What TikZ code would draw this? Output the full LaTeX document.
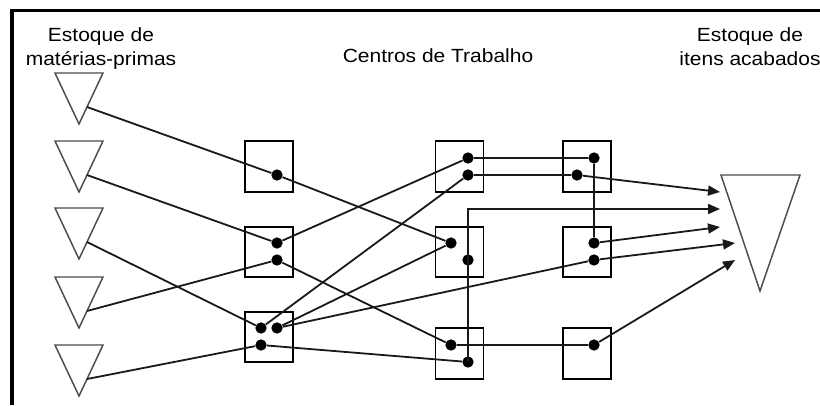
\documentclass[tikz,border=0pt]{standalone}
\usepackage{fontspec}
\setmainfont{Liberation Sans}[FakeStretch=1.1]
\usetikzlibrary{arrows.meta}
\begin{document}
\begin{tikzpicture}[x=0.75pt,y=-0.75pt,
  box/.style={draw=black, line width=1.4pt, minimum width=36pt, minimum height=38pt, inner sep=0pt},
  dot/.style={circle, fill=black, inner sep=0pt, minimum size=8.5pt},
  flow/.style={draw=black!90, line width=1.35pt},
  arr/.style={flow, -{Triangle[length=9pt,width=7.5pt]}},
  stock/.style={draw=black!70, line width=1.1pt, line join=miter},
  txt/.style={font=\fontsize{14.3pt}{18pt}\selectfont, inner sep=0pt, anchor=base}]

\useasboundingbox (0,0) rectangle (820,405);

% frame
\draw[line width=2.6pt] (12,405) -- (12,10.3) -- (820,10.3);

% titles
\node[txt] (l1) at (101,41) {Estoque de};
\node[txt] (l2) at (101,65) {matérias-primas};
\node[txt] (l3) at (438,62) {Centros de Trabalho};
\node[txt] (l4) at (750,41) {Estoque de};
\node[txt] (l5) at (750,65) {itens acabados};

% raw material stocks
\foreach \t [count=\i] in {73,141,208,277,345} {
  \draw[stock] (55,\t) -- (103,\t) -- (79,\t+51) -- cycle;
  \coordinate (s\i) at (87,\t+34);
}

% finished goods stock
\draw[stock] (721,175) -- (800,175) -- (760,291) -- cycle;
\coordinate (e1) at (720,192);
\coordinate (e2) at (720,209);
\coordinate (e3) at (720,227);
\coordinate (e4) at (735,243);
\coordinate (e5) at (735,260);

% work centres
\node[box] (b11) at (269,166.5) {};
\node[box] (b12) at (269,252) {};
\node[box] (b13) at (269,337) {};
\node[box] (b21) at (459.5,166.5) {};
\node[box] (b22) at (459.5,252) {};
\node[box] (b23) at (459.5,353.5) {};
\node[box] (b31) at (587,166.5) {};
\node[box] (b32) at (587,252) {};
\node[box] (b33) at (587,353.5) {};

% operations
\node[dot] (d11) at (277,175) {};
\node[dot] (d21) at (277,243) {};
\node[dot] (d22) at (277,260) {};
\node[dot] (d31) at (261,328) {};
\node[dot] (d32) at (277,328) {};
\node[dot] (d33) at (261,345) {};
\node[dot] (p11) at (468,158) {};
\node[dot] (p12) at (468,175) {};
\node[dot] (p21) at (451,243) {};
\node[dot] (p22) at (468,260) {};
\node[dot] (p31) at (451,345) {};
\node[dot] (p32) at (468,362) {};
\node[dot] (q11) at (594,158) {};
\node[dot] (q12) at (577,175) {};
\node[dot] (q21) at (594,243) {};
\node[dot] (q22) at (594,260) {};
\node[dot] (q31) at (594,345) {};

% routings
\draw[flow] (s1) -- (d11) -- (p21);
\draw[flow] (s2) -- (d21) -- (p11);
\draw[flow] (s3) -- (d31) -- (p12);
\draw[flow] (s4) -- (d22) -- (p31);
\draw[flow] (s5) -- (d33) -- (p32);
\draw[flow] (d32) -- (p21);
\draw[flow] (d32) -- (q22);
\draw[arr] (q22) -- (e4);
\draw[flow] (p11) -- (q11) -- (q21);
\draw[arr] (q21) -- (e3);
\draw[flow] (p12) -- (q12);
\draw[arr] (q12) -- (e1);
\draw[arr] (p32.center) |- (e2);
\draw[flow] (p31) -- (q31);
\draw[arr] (q31) -- (e5);
\end{tikzpicture}
\end{document}
